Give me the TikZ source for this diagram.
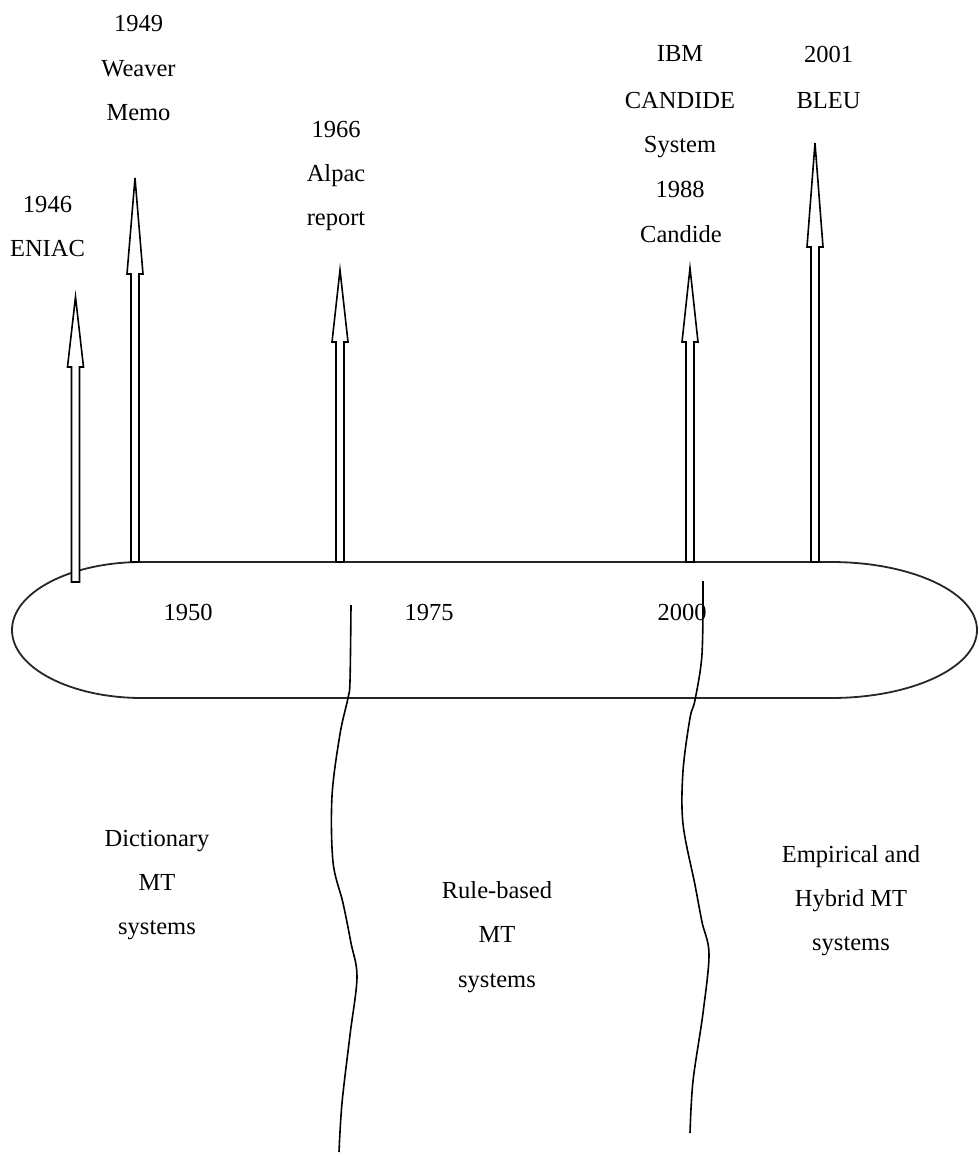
\documentclass[tikz,border=0pt]{standalone}
\usepackage{fontspec}
\setmainfont{Liberation Serif}
\begin{document}
\begin{tikzpicture}[x=1pt,y=-1pt,
  lbl/.style={anchor=base,inner sep=0pt,font=\fontsize{24.5}{30}\selectfont},
  pill/.style={draw=black!85,line width=1.8pt},
  blockarrow/.style={draw=black,line width=1.6pt,fill=white,line join=miter},
  wave/.style={draw=black,line width=1.6pt}]
\useasboundingbox (0,0) rectangle (978,1156);
% timeline band
\draw[pill] (142,562) -- (831,562)
  arc[start angle=-90,end angle=90,x radius=146,y radius=68]
  -- (142,698)
  arc[start angle=90,end angle=270,x radius=130,y radius=68] -- cycle;
% block arrows: x, bottom, head base, tip
\newcommand\myblockarrow[4]{%
  \draw[blockarrow] (#1-4,#2) -- (#1-4,#3) -- (#1-8,#3) -- (#1,#4)
    -- (#1+8,#3) -- (#1+4,#3) -- (#1+4,#2) -- cycle;}
\myblockarrow{75.5}{582}{367}{297}
\myblockarrow{135}{562}{274}{178}
\myblockarrow{340}{562}{342}{270}
\myblockarrow{690}{562}{342}{268}
\myblockarrow{815}{562}{247}{143}
% labels above
\node[lbl] (t1946) at (47.5,212) {1946};
\node[lbl] (eniac) at (47.5,256) {ENIAC};
\node[lbl] (t1949) at (138.5,32) {1949};
\node[lbl] (weaver) at (138.5,76) {Weaver};
\node[lbl] (memo) at (138.5,120) {Memo};
\node[lbl] (t1966) at (336,137) {1966};
\node[lbl] (alpac) at (336,181) {Alpac};
\node[lbl] (report) at (336,225) {report};
\node[lbl] (ibm) at (680,62) {IBM};
\node[lbl] (candideU) at (680,108) {CANDIDE};
\node[lbl] (system) at (680,152) {System};
\node[lbl] (t1988) at (680,197) {1988};
\node[lbl] (candide) at (681,242) {Candide};
\node[lbl] (t2001) at (828.5,63) {2001};
\node[lbl] (bleu) at (828.5,108) {BLEU};
% years in band
\node[lbl] (y1950) at (188,620) {1950};
\node[lbl] (y1975) at (429,620) {1975};
\node[lbl] (y2000) at (682,620) {2000};
% eras
\node[lbl] (dict) at (157,846) {Dictionary};
\node[lbl] (dictmt) at (157,890) {MT};
\node[lbl] (dictsys) at (157,934) {systems};
\node[lbl] (rule) at (497,898) {Rule-based};
\node[lbl] (rulemt) at (497,942) {MT};
\node[lbl] (rulesys) at (497,987) {systems};
\node[lbl] (emp) at (851,862) {Empirical and};
\node[lbl] (emphyb) at (851,906) {Hybrid MT};
\node[lbl] (empsys) at (851,950) {systems};
% era boundaries
\draw[wave] plot[smooth,tension=0.55] coordinates {(351,605) (350,681) (348,698) (340,734) (332,796) (333,862) (343,903) (351,943) (357,977) (350,1035) (342,1103) (339,1152)};
\draw[wave] plot[smooth,tension=0.55] coordinates {(703,581) (702,654) (695,700) (690,718) (683,771) (683,824) (695,885) (702,922) (709,954) (703,1013) (693,1081) (690,1133)};
\end{tikzpicture}
\end{document}
